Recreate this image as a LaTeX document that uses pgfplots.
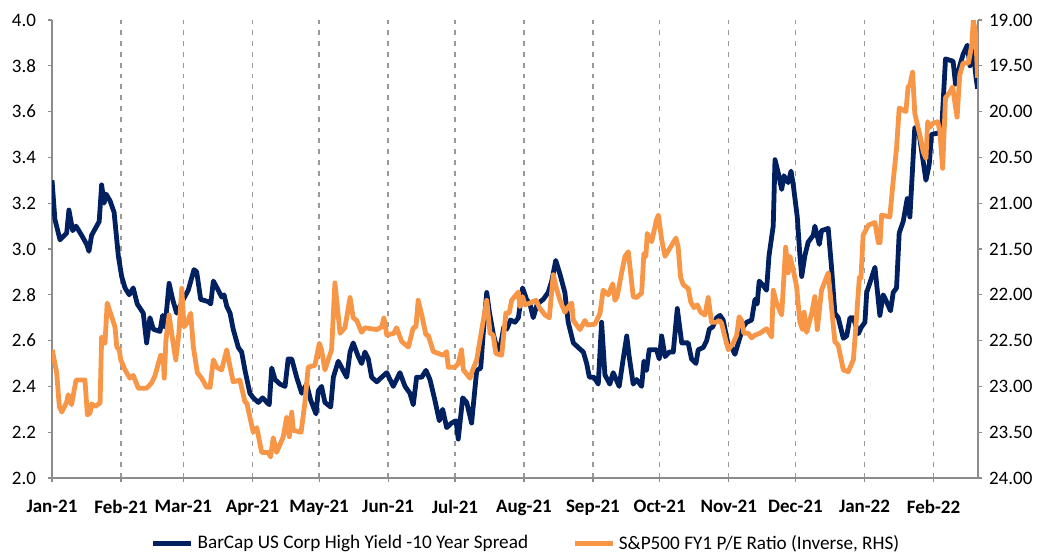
\documentclass[border=0pt]{standalone}
\usepackage{pgfplots}
\pgfplotsset{compat=1.18}
\usepackage{fontspec}
\setmainfont{Carlito}
\definecolor{navy}{HTML}{002060}
\definecolor{orng}{HTML}{F79646}
\definecolor{axgray}{HTML}{8C8C8C}
\definecolor{gridgray}{HTML}{999999}
\begin{document}
\begin{tikzpicture}
\pgfplotsset{
  common/.style={scale only axis, width=463pt, height=229pt, xmin=0, xmax=416,
    at={(0,0)}, anchor=south west, clip=true,
    /pgf/number format/assume math mode=true,
    tick align=outside, major tick length=2pt,
    every tick/.style={axgray, line width=0.6pt},
    axis line style={axgray, line width=0.6pt},
    tick label style={font=\fontsize{9.5}{11}\selectfont},
  }
}
\begin{axis}[common, ymin=2, ymax=4, axis y line*=left, axis x line*=bottom,
  xtick={0,31,59,90,120,151,181,212,243,273,304,334,365,396},
  xticklabels={Jan-21,Feb-21,Mar-21,Apr-21,May-21,Jun-21,Jul-21,Aug-21,Sep-21,Oct-21,Nov-21,Dec-21,Jan-22,Feb-22},
  xticklabel style={font=\fontsize{9.5}{11}\selectfont\bfseries, yshift=-5.5pt},
  xmajorgrids, major x grid style={gridgray, dash pattern=on 2.4pt off 3pt, line width=0.7pt},
  ytick={2,2.2,2.4,2.6,2.8,3,3.2,3.4,3.6,3.8,4},
  yticklabel style={/pgf/number format/.cd, fixed, fixed zerofill, precision=1, /tikz/.cd, xshift=-2.5pt},
]
\addplot[navy, line width=2.4pt, line join=round] coordinates {
(0,3.30)(1.3,3.13)(3.6,3.04)(6.6,3.07)(7.6,3.17)(9.3,3.08)(10.8,3.10)(13.3,3.06)(15.6,3.02)(16.6,2.99)(17.8,3.06)(21.2,3.12)(22.3,3.28)(23.4,3.20)(24.3,3.24)(26.1,3.21)(27.9,3.16)(29.8,2.97)(31.3,2.88)(32.8,2.83)(34.7,2.80)(36.5,2.83)(38.3,2.76)(41.0,2.72)(42.5,2.59)(44.0,2.70)(45.5,2.65)(48.5,2.64)(49.7,2.71)(50.8,2.66)(52.6,2.85)(54.2,2.78)(56.0,2.72)(59.0,2.78)(61.2,2.82)(63.8,2.91)(65.0,2.90)(66.8,2.78)(70.2,2.77)(71.3,2.76)(72.5,2.86)(74.7,2.82)(76.2,2.79)(77.3,2.80)(78.5,2.75)(80.0,2.72)(81.4,2.65)(83.7,2.57)(85.2,2.55)(86.7,2.47)(88.9,2.37)(90.4,2.35)(92.7,2.33)(94.6,2.35)(97.6,2.32)(98.7,2.48)(100.2,2.43)(102.4,2.41)(104.7,2.40)(106.1,2.52)(107.7,2.52)(109.9,2.44)(112.2,2.37)(114.4,2.41)(116.2,2.34)(118.6,2.28)(119.6,2.38)(121.1,2.40)(122.6,2.33)(125.2,2.31)(126.4,2.44)(128.6,2.51)(132.4,2.44)(133.9,2.55)(135.3,2.59)(137.6,2.53)(139.1,2.50)(140.6,2.55)(142.1,2.52)(143.6,2.44)(145.9,2.42)(148.1,2.44)(150.4,2.46)(153.3,2.40)(156.3,2.46)(158.6,2.40)(160.8,2.37)(162.3,2.32)(163.8,2.44)(166.1,2.44)(168.0,2.47)(169.8,2.43)(172.0,2.34)(174.0,2.25)(175.5,2.30)(177.3,2.22)(179.5,2.24)(181.5,2.25)(182.5,2.17)(184.5,2.35)(186.3,2.33)(188.5,2.24)(190.8,2.47)(192.6,2.48)(193.7,2.63)(195.3,2.81)(196.4,2.73)(198.2,2.63)(199.8,2.57)(200.9,2.55)(203.0,2.66)(204.3,2.65)(206.0,2.69)(208.0,2.68)(209.5,2.70)(211.4,2.83)(213.2,2.78)(214.7,2.76)(216.2,2.70)(218.0,2.76)(220.7,2.78)(222.9,2.81)(224.5,2.86)(226.3,2.95)(228.2,2.89)(230.4,2.81)(231.9,2.68)(234.2,2.59)(236.4,2.57)(238.7,2.55)(240.2,2.50)(241.4,2.44)(243.5,2.44)(245.4,2.41)(246.9,2.68)(248.4,2.45)(250.6,2.41)(252.1,2.46)(254.8,2.40)(256.6,2.52)(258.2,2.62)(259.3,2.53)(261.1,2.41)(262.6,2.43)(264.9,2.40)(265.9,2.51)(267.1,2.47)(268.3,2.56)(271.6,2.56)(272.8,2.52)(273.9,2.62)(275.4,2.53)(277.3,2.55)(279.1,2.55)(280.9,2.74)(282.9,2.59)(285.8,2.59)(287.3,2.52)(289.3,2.50)(290.3,2.56)(292.6,2.57)(294.1,2.60)(295.3,2.65)(296.8,2.66)(298.6,2.70)(300.1,2.71)(301.5,2.69)(303.8,2.58)(305.3,2.57)(306.8,2.54)(308.3,2.59)(310.5,2.66)(312.1,2.68)(314.3,2.69)(315.8,2.78)(316.8,2.76)(317.7,2.86)(319.5,2.84)(321.0,2.82)(322.1,2.97)(324.0,3.10)(324.8,3.39)(326.3,3.33)(327.8,3.26)(328.8,3.32)(330.0,3.30)(330.7,3.29)(332.0,3.34)(333.0,3.28)(334.8,3.14)(336.0,2.97)(336.8,2.88)(338.2,2.97)(339.7,3.03)(342.0,3.06)(342.7,3.10)(344.7,3.02)(345.7,3.08)(348.7,3.09)(350.2,2.92)(351.7,2.72)(353.2,2.70)(355.5,2.61)(357.0,2.62)(358.5,2.70)(360.0,2.70)(362.2,2.63)(363.7,2.66)(365.2,2.68)(366.0,2.81)(369.7,2.92)(371.9,2.71)(373.4,2.80)(374.9,2.77)(376.7,2.73)(377.9,2.81)(379.4,2.83)(380.6,3.07)(382.4,3.12)(384.2,3.22)(385.4,3.14)(387.6,3.53)(389.6,3.50)(391.4,3.38)(392.6,3.30)(394.1,3.37)(395.1,3.50)(399.6,3.51)(401.4,3.83)(404.8,3.82)(405.9,3.72)(407.8,3.80)(409.3,3.85)(411.2,3.89)(412.4,3.80)(413.6,3.89)(415.1,3.75)(415.8,3.70)
};
\end{axis}
\begin{axis}[common, ymin=19, ymax=24, y dir=reverse, axis y line*=right, axis x line=none,
  ytick={19,19.5,20,20.5,21,21.5,22,22.5,23,23.5,24},
  yticklabel style={/pgf/number format/.cd, fixed, fixed zerofill, precision=2, /tikz/.cd, xshift=0pt},
  legend style={at={(0.513,-0.143)}, anchor=center, draw=none, fill=none,
    legend columns=2, font=\fontsize{9.6}{11}\selectfont,
    /tikz/every even column/.append style={column sep=20pt}},
  legend image code/.code={\draw[#1] (0pt,0pt) -- (19pt,0pt);},
]
\addlegendimage{navy, line width=2.4pt}
\addlegendentry{BarCap US Corp High Yield -10 Year Spread}
\addplot[orng, line width=2.4pt, line join=round] coordinates {
(0.1,22.60)(2.1,22.85)(3.3,23.22)(4.4,23.28)(6.6,23.17)(7.3,23.09)(8.8,23.20)(10.8,22.93)(14.8,22.93)(15.9,23.31)(17.1,23.29)(17.8,23.19)(19.3,23.22)(21.6,23.18)(22.3,22.46)(23.8,22.53)(24.8,22.09)(26.8,22.24)(28.3,22.35)(29.1,22.57)(30.2,22.60)(30.9,22.71)(32.8,22.82)(35.0,22.91)(36.5,22.88)(38.8,23.02)(42.5,23.02)(44.8,22.96)(46.3,22.88)(48.8,22.66)(50.0,22.68)(50.4,22.91)(51.2,22.49)(52.6,22.22)(54.0,22.46)(55.6,22.71)(57.0,22.42)(58.3,21.93)(59.3,22.35)(60.8,22.30)(62.3,22.20)(63.5,22.57)(65.3,22.85)(67.2,22.91)(69.5,23.01)(71.0,23.01)(72.5,22.71)(74.0,22.79)(76.2,22.82)(78.5,22.60)(80.0,22.79)(81.4,22.95)(84.4,22.93)(86.7,23.17)(87.5,23.18)(90.4,23.50)(92.0,23.45)(94.2,23.72)(97.2,23.72)(98.2,23.77)(99.4,23.56)(100.9,23.72)(103.9,23.55)(105.4,23.34)(106.6,23.55)(107.7,23.28)(108.4,23.48)(111.9,23.50)(113.6,23.18)(115.1,22.79)(118.1,22.77)(120.1,22.53)(121.1,22.60)(122.6,22.82)(125.6,22.60)(127.1,21.87)(129.4,22.42)(131.6,22.36)(133.9,22.03)(135.3,22.25)(136.9,22.28)(139.1,22.41)(140.6,22.36)(145.9,22.38)(148.1,22.35)(149.1,22.25)(150.4,22.44)(153.6,22.42)(154.8,22.36)(157.1,22.51)(160.1,22.57)(162.3,22.36)(163.5,22.35)(164.5,22.06)(166.1,22.22)(168.0,22.44)(169.0,22.44)(171.3,22.62)(175.8,22.66)(177.3,22.62)(178.0,22.79)(181.0,22.79)(182.5,22.75)(184.0,22.60)(184.8,22.82)(187.8,22.91)(189.0,22.82)(190.8,22.71)(192.3,22.49)(195.3,22.06)(196.8,22.42)(198.2,22.44)(199.4,22.64)(202.0,22.66)(203.9,22.20)(205.4,22.20)(206.5,22.06)(209.5,21.97)(210.2,22.13)(211.4,22.02)(212.5,22.11)(214.7,22.09)(217.4,22.06)(219.2,22.15)(221.5,22.22)(223.4,22.25)(225.2,21.78)(226.4,21.91)(228.2,22.06)(230.4,22.19)(231.9,22.13)(233.5,22.09)(234.2,22.28)(237.2,22.38)(239.4,22.28)(240.5,22.33)(243.9,22.32)(246.2,22.20)(247.6,21.95)(249.9,22.00)(251.9,21.88)(252.9,22.06)(253.9,22.02)(255.9,21.76)(257.4,21.58)(258.9,21.53)(261.1,22.02)(262.6,22.03)(264.9,21.98)(265.9,21.55)(266.8,21.58)(267.4,21.33)(269.4,21.42)(271.6,21.18)(272.4,21.13)(273.9,21.40)(275.4,21.58)(277.6,21.49)(280.3,21.38)(281.3,21.48)(282.4,21.81)(283.6,21.89)(285.8,21.93)(287.0,22.08)(288.4,22.14)(289.9,22.11)(291.4,22.19)(293.3,22.22)(294.8,22.03)(296.3,22.30)(298.3,22.30)(299.8,22.28)(300.8,22.31)(302.3,22.46)(303.8,22.60)(306.0,22.53)(307.6,22.44)(308.7,22.24)(309.8,22.28)(310.8,22.42)(312.8,22.42)(314.3,22.47)(315.8,22.44)(318.0,22.42)(321.0,22.37)(323.3,22.46)(324.0,21.95)(325.5,22.09)(327.8,22.22)(329.6,21.48)(330.7,21.76)(331.5,21.58)(333.0,21.73)(334.5,21.91)(336.0,22.30)(337.2,22.38)(337.9,22.19)(339.0,22.41)(341.3,22.20)(342.7,22.02)(343.8,22.38)(345.7,21.95)(348.7,21.76)(350.2,22.14)(351.7,22.51)(353.2,22.55)(355.5,22.82)(357.7,22.84)(360.0,22.71)(361.5,22.22)(362.7,21.81)(363.4,21.82)(364.4,21.35)(366.7,21.24)(369.7,21.21)(371.2,21.43)(372.0,21.43)(372.7,21.13)(376.4,21.15)(377.6,20.83)(379.4,20.40)(380.6,19.96)(383.6,20.00)(384.6,19.73)(385.4,19.71)(386.6,19.57)(387.6,20.02)(389.9,20.26)(391.4,20.44)(392.6,20.51)(393.4,20.11)(394.4,20.17)(395.6,20.13)(397.9,20.11)(398.9,20.22)(400.1,20.62)(401.4,19.85)(403.3,19.79)(404.6,19.73)(405.6,19.90)(406.6,20.06)(407.8,19.60)(409.3,19.47)(411.7,19.47)(413.2,19.27)(413.9,19.00)(415.0,19.16)(415.8,19.63)
};
\addlegendentry{S\&P500 FY1 P/E Ratio (Inverse, RHS)}
\end{axis}
\pgfresetboundingbox
\path[use as bounding box] (-26pt,-39pt) rectangle (492.5pt,239pt);
\end{tikzpicture}
\end{document}
